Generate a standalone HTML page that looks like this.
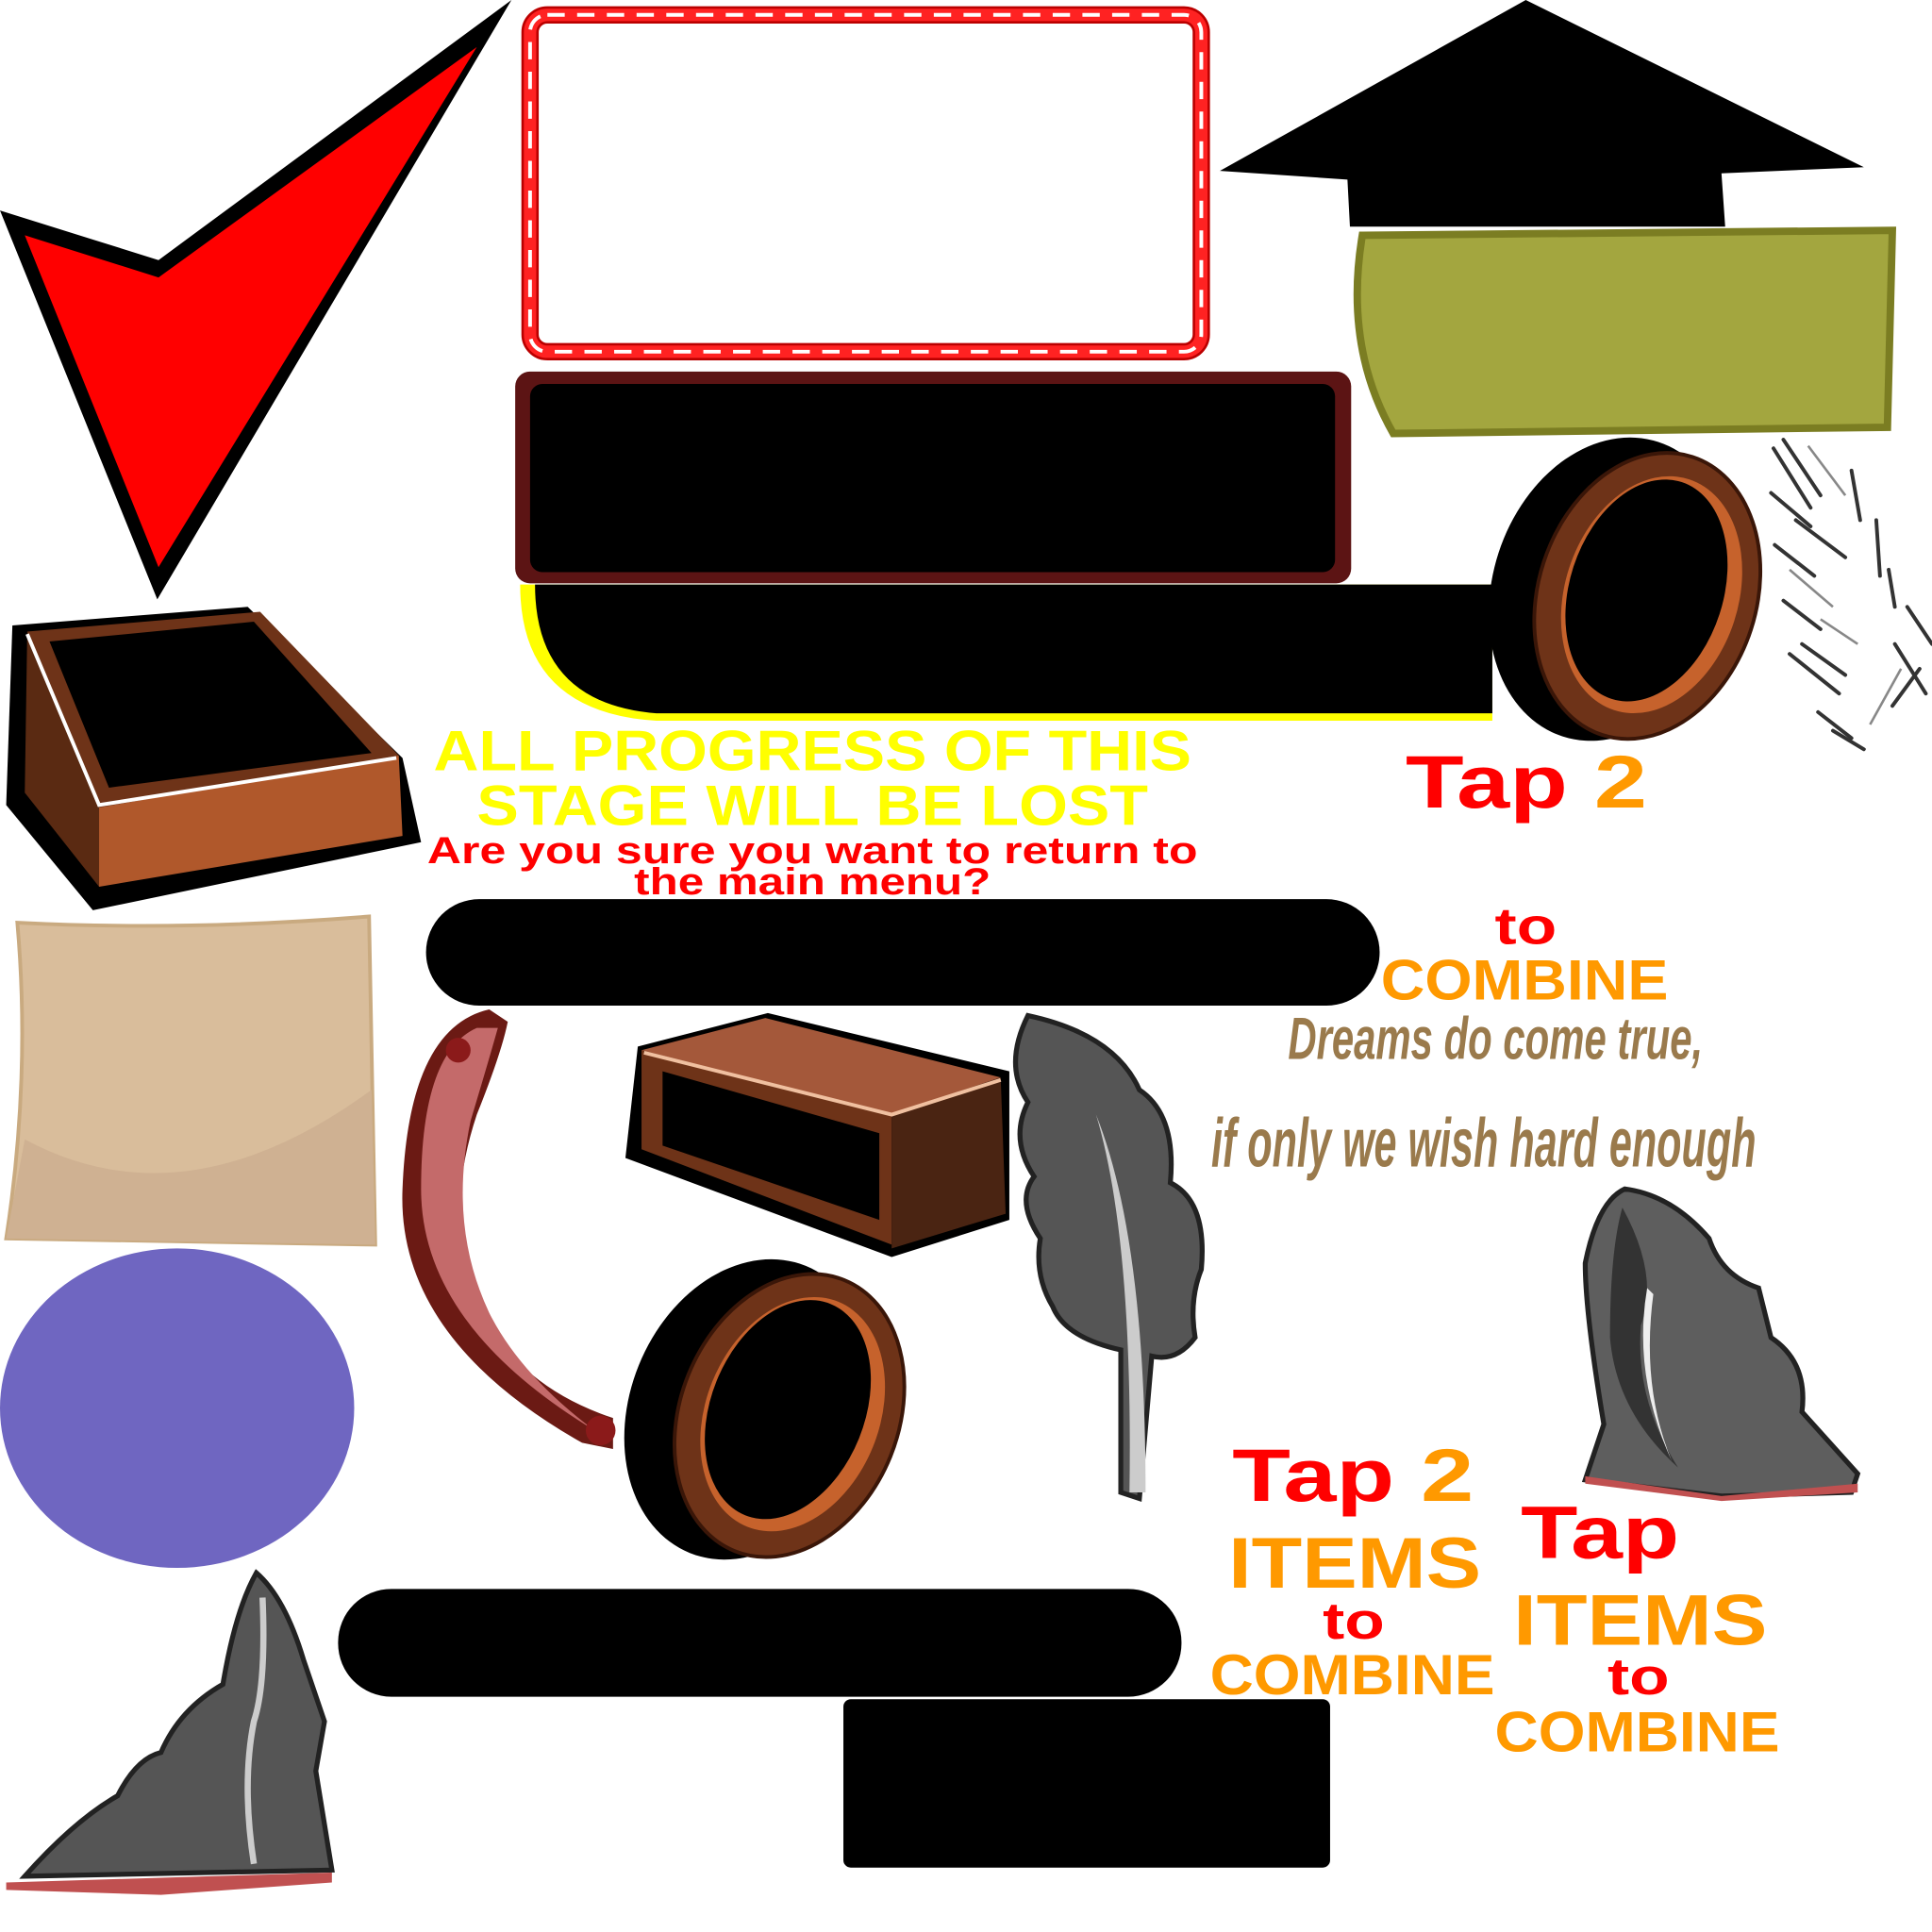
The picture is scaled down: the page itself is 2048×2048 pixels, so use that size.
<!DOCTYPE html>
<html><head><meta charset="utf-8"><style>
html,body{margin:0;padding:0;background:#fff;width:2048px;height:2048px;overflow:hidden}
svg{display:block}
text{font-family:"Liberation Sans",sans-serif;font-weight:bold}
</style></head><body>
<svg width="2048" height="2048" viewBox="0 0 1560 1560" xmlns="http://www.w3.org/2000/svg">
<polygon points="0,170 128,210 413,0 127,484" fill="#000"/>
<polygon points="20,190 128,224 385,38 128,458" fill="#f00"/>
<rect x="428" y="12" width="542" height="272" rx="14" fill="none" stroke="#b00" stroke-width="14"/>
<rect x="428" y="12" width="542" height="272" rx="14" fill="none" stroke="#f22" stroke-width="10"/>
<rect x="428" y="12" width="542" height="272" rx="14" fill="none" stroke="#fff" stroke-width="3" stroke-dasharray="14 10"/>
<polygon points="985,138 1232,0 1505,135 1390,140 1393,183 1090,183 1088,145" fill="#000"/>
<path d="M1100,190 L1528,186 L1524,345 L1125,350 Q1085,280 1100,190Z" fill="#a3a63f" stroke="#7b7d22" stroke-width="6"/>
<rect x="416" y="300" width="675" height="171" rx="12" fill="#5c1414"/>
<rect x="428" y="310" width="650" height="152" rx="10" fill="#000"/>
<path d="M420,472 L1205,472 L1205,582 L530,582 Q420,575 420,472Z" fill="#ff0"/>
<path d="M432,472 L1205,472 L1205,576 L530,576 Q432,568 432,472Z" fill="#000"/>
<g transform="rotate(18 1320 480)">
<ellipse cx="1300" cy="482" rx="95" ry="125" fill="#000"/>
<ellipse cx="1330" cy="478" rx="88" ry="118" fill="#6e3318" stroke="#3a1608" stroke-width="3"/>
<ellipse cx="1333" cy="476" rx="70" ry="98" fill="#c6622c"/>
<ellipse cx="1328" cy="474" rx="62" ry="92" fill="#000"/>
</g>
<g stroke="#333" stroke-width="3" stroke-linecap="round">
<line x1="1432" y1="362" x2="1462" y2="410"/><line x1="1440" y1="355" x2="1470" y2="400"/>
<line x1="1495" y1="380" x2="1502" y2="420"/><line x1="1515" y1="420" x2="1518" y2="465"/>
<line x1="1430" y1="398" x2="1462" y2="425"/><line x1="1433" y1="440" x2="1465" y2="465"/>
<line x1="1440" y1="485" x2="1470" y2="508"/><line x1="1455" y1="520" x2="1490" y2="545"/>
<line x1="1445" y1="528" x2="1485" y2="560"/><line x1="1468" y1="575" x2="1495" y2="596"/>
<line x1="1480" y1="590" x2="1505" y2="605"/><line x1="1540" y1="490" x2="1560" y2="520"/>
<line x1="1530" y1="520" x2="1555" y2="560"/><line x1="1528" y1="570" x2="1550" y2="540"/>
<line x1="1525" y1="460" x2="1530" y2="490"/><line x1="1450" y1="420" x2="1490" y2="450"/>
</g>
<g stroke="#888" stroke-width="2"><line x1="1460" y1="360" x2="1490" y2="400"/><line x1="1445" y1="460" x2="1480" y2="490"/><line x1="1470" y1="500" x2="1500" y2="520"/><line x1="1535" y1="540" x2="1510" y2="585"/></g>
<path d="M10,505 L200,490 L325,612 L340,680 L75,735 L5,650 Z" fill="#000"/>
<polygon points="22,510 210,494 322,610 80,652" fill="#6e3318"/>
<polygon points="40,518 205,502 300,608 88,636" fill="#000"/>
<polygon points="22,510 80,652 80,716 20,640" fill="#5a2a12"/>
<polygon points="80,652 322,610 325,675 80,716" fill="#b0582b"/>
<polyline points="22,512 80,650 320,612" fill="none" stroke="#fff" stroke-width="3"/>
<g lengthAdjust="spacingAndGlyphs">
<text x="350" y="622" font-size="46" fill="#ff0" textLength="612" lengthAdjust="spacingAndGlyphs">ALL PROGRESS OF THIS</text>
<text x="385" y="666" font-size="46" fill="#ff0" textLength="542" lengthAdjust="spacingAndGlyphs">STAGE WILL BE LOST</text>
<text x="345" y="697" font-size="30" fill="#f00" textLength="622" lengthAdjust="spacingAndGlyphs">Are you sure you want to return to</text>
<text x="512" y="722" font-size="30" fill="#f00" textLength="288" lengthAdjust="spacingAndGlyphs">the main menu?</text>
<text x="1135" y="652" font-size="60" textLength="195" lengthAdjust="spacingAndGlyphs"><tspan fill="#f00">Tap </tspan><tspan fill="#f90">2</tspan></text>
<text x="1207" y="762" font-size="42" fill="#f00" textLength="50" lengthAdjust="spacingAndGlyphs">to</text>
<text x="1115" y="807" font-size="46" fill="#f90" textLength="232" lengthAdjust="spacingAndGlyphs">COMBINE</text>
<text x="995" y="1212" font-size="60" textLength="195" lengthAdjust="spacingAndGlyphs"><tspan fill="#f00">Tap </tspan><tspan fill="#f90">2</tspan></text>
<text x="992" y="1282" font-size="58" fill="#f90" textLength="204" lengthAdjust="spacingAndGlyphs">ITEMS</text>
<text x="1068" y="1323" font-size="42" fill="#f00" textLength="50" lengthAdjust="spacingAndGlyphs">to</text>
<text x="977" y="1368" font-size="46" fill="#f90" textLength="230" lengthAdjust="spacingAndGlyphs">COMBINE</text>
<text x="1228" y="1258" font-size="60" fill="#f00" textLength="128" lengthAdjust="spacingAndGlyphs">Tap</text>
<text x="1222" y="1328" font-size="58" fill="#f90" textLength="205" lengthAdjust="spacingAndGlyphs">ITEMS</text>
<text x="1298" y="1368" font-size="42" fill="#f00" textLength="50" lengthAdjust="spacingAndGlyphs">to</text>
<text x="1207" y="1414" font-size="46" fill="#f90" textLength="230" lengthAdjust="spacingAndGlyphs">COMBINE</text>
<text x="1040" y="855" font-size="48" fill="#9a7a4c" font-style="italic" textLength="335" lengthAdjust="spacingAndGlyphs">Dreams do come true,</text>
<text x="978" y="942" font-size="56" fill="#9a7a4c" font-style="italic" textLength="440" lengthAdjust="spacingAndGlyphs">if only we wish hard enough</text>
</g>
<path d="M14,745 Q150,752 298,740 L303,1005 L5,1000 Q25,870 14,745Z" fill="#d9bd9b" stroke="#c9aa80" stroke-width="3"/>
<path d="M20,920 Q150,990 300,880 L303,1005 L5,1000Z" fill="#cfb192"/>
<ellipse cx="143" cy="1137" rx="143" ry="129" fill="#6f66c1"/>
<rect x="344" y="726" width="770" height="86" rx="43" fill="#000"/>
<rect x="273" y="1283" width="681" height="87" rx="43" fill="#000"/>
<rect x="681" y="1372" width="393" height="136" rx="6" fill="#000"/>
<path d="M395,815 Q330,830 325,960 Q320,1080 470,1165 L495,1170 L495,1145 Q420,1120 390,1060 Q355,990 385,900 Q405,850 410,825Z" fill="#6b1a14"/>
<path d="M385,830 Q340,850 340,960 Q340,1070 480,1155 Q420,1110 395,1060 Q362,990 380,905 Q395,855 402,830Z" fill="#c46a6a"/>
<circle cx="370" cy="848" r="10" fill="#8b1a1a"/><circle cx="485" cy="1155" r="12" fill="#8b1a1a"/>
<polygon points="515,845 620,818 815,865 815,985 720,1015 505,935" fill="#000"/>
<polygon points="518,848 618,822 808,870 720,900" fill="#a4583a"/>
<polygon points="518,848 720,900 720,1005 518,928" fill="#6e3318"/>
<polygon points="535,865 710,915 710,985 535,925" fill="#000"/>
<polygon points="720,900 808,870 812,980 720,1008" fill="#4a2412"/>
<polyline points="520,850 720,900 808,872" fill="none" stroke="#f0c0a0" stroke-width="3"/>
<g transform="rotate(22 630 1140)">
<ellipse cx="605" cy="1148" rx="95" ry="125" fill="#000"/>
<ellipse cx="638" cy="1140" rx="88" ry="118" fill="#6e3318" stroke="#3a1608" stroke-width="3"/>
<ellipse cx="640" cy="1138" rx="70" ry="98" fill="#c6622c"/>
<ellipse cx="635" cy="1136" rx="62" ry="92" fill="#000"/>
</g>
<path d="M830,820 Q900,835 920,880 Q950,900 945,955 Q975,970 970,1025 Q960,1050 965,1080 Q950,1100 930,1095 L920,1210 L905,1205 L905,1090 Q860,1080 850,1055 Q835,1030 840,1000 Q820,970 835,950 Q815,920 830,890 Q810,860 830,820Z" fill="#555" stroke="#222" stroke-width="4"/>
<path d="M885,900 Q925,1000 925,1205 L912,1205 Q915,1000 885,900Z" fill="#ccc"/>
<path d="M1312,960 Q1350,965 1380,1000 Q1390,1030 1420,1040 L1430,1080 Q1460,1100 1455,1140 L1500,1190 L1495,1205 L1390,1208 L1280,1195 L1295,1150 Q1280,1060 1280,1020 Q1290,970 1312,960Z" fill="#5e5e5e" stroke="#222" stroke-width="4"/>
<path d="M1280,1192 L1390,1208 L1500,1198 L1500,1205 L1390,1212 L1280,1198Z" fill="#c05050"/>
<path d="M1310,975 Q1340,1030 1325,1070 Q1320,1130 1355,1185 Q1305,1140 1300,1080 Q1300,1010 1310,975Z" fill="#333"/>
<path d="M1330,1040 Q1318,1110 1350,1180 Q1325,1120 1335,1045Z" fill="#eee"/>
<path d="M207,1270 Q230,1290 245,1340 L262,1390 L255,1430 L268,1510 L20,1515 Q60,1470 95,1450 Q110,1420 130,1415 Q145,1380 180,1360 Q190,1300 207,1270Z" fill="#555" stroke="#222" stroke-width="4"/>
<path d="M5,1520 L268,1512 L268,1520 L130,1530 L5,1526Z" fill="#c05050"/>
<path d="M212,1290 Q215,1360 205,1390 Q195,1440 205,1505" fill="none" stroke="#ccc" stroke-width="5"/>
</svg>
</body></html>
